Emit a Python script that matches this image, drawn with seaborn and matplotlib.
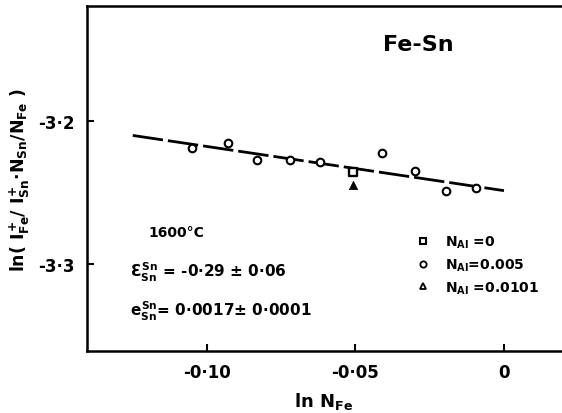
import matplotlib
matplotlib.use("Agg")
import matplotlib.pyplot as plt
from matplotlib.lines import Line2D
import seaborn as sns
import pandas as pd

# measured points, ln N_Fe vs ln(I+Fe/I+Sn * NSn/NFe)
x_al005 = [-0.105, -0.093, -0.083, -0.072, -0.062, -0.041, -0.030, -0.0195, -0.0095]
y_al005 = [-3.219, -3.2155, -3.227, -3.227, -3.2285, -3.2225, -3.235, -3.249, -3.247]
x_al0 = [-0.051]
y_al0 = [-3.2355]
x_al0101 = [-0.051]
y_al0101 = [-3.245]

# fitted line
fit_x = [-0.125, 0.0]
fit_y = [-3.2101, -3.2487]

xticks = [-0.10, -0.05, 0.0]
xtick_labels = ["-0·10", "-0·05", "0"]
yticks = [-3.2, -3.3]
ytick_labels = ["-3·2", "-3·3"]

legend_labels = [r"N$_{Al}$ =0", r"N$_{Al}$=0.005", r"N$_{Al}$ =0.0101"]

sns.set_style("ticks")
plt.rcParams["font.family"] = ["DejaVu Sans"]
plt.rcParams["font.weight"] = "bold"
plt.rcParams["axes.labelweight"] = "bold"
plt.rcParams["text.color"] = "black"
plt.rcParams["axes.labelcolor"] = "black"
plt.rcParams["axes.edgecolor"] = "black"
plt.rcParams["xtick.color"] = "black"
plt.rcParams["ytick.color"] = "black"
plt.rcParams["mathtext.fontset"] = "custom"
plt.rcParams["mathtext.rm"] = "DejaVu Sans:bold"
plt.rcParams["mathtext.it"] = "DejaVu Sans:bold"
plt.rcParams["mathtext.bf"] = "DejaVu Sans:bold"
plt.rcParams["mathtext.sf"] = "DejaVu Sans:bold"

fig = plt.figure(figsize=(5.62, 4.14), dpi=100)
ax = fig.add_axes([0.1548, 0.1498, 0.8434, 0.8333])

fit = pd.DataFrame({"x": fit_x, "y": fit_y})
sns.lineplot(data=fit, x="x", y="y", ax=ax, color="black", linewidth=2.0,
             dashes=False, zorder=1)
ax.lines[-1].set_dashes((11, 1.8))

df05 = pd.DataFrame({"x": x_al005, "y": y_al005})
df0 = pd.DataFrame({"x": x_al0, "y": y_al0})
df01 = pd.DataFrame({"x": x_al0101, "y": y_al0101})
sns.scatterplot(data=df05, x="x", y="y", ax=ax, marker="o", s=30,
                facecolor="white", edgecolor="black", linewidth=1.5, zorder=3)
sns.scatterplot(data=df0, x="x", y="y", ax=ax, marker="s", s=36,
                facecolor="white", edgecolor="black", linewidth=1.7, zorder=3)
sns.scatterplot(data=df01, x="x", y="y", ax=ax, marker="^", s=36,
                color="black", edgecolor="black", linewidth=0.5, zorder=3)

ax.set_xlim(-0.1404, 0.0192)
ax.set_ylim(-3.3608, -3.1196)
ax.set_xticks(xticks)
ax.set_xticklabels(xtick_labels)
ax.set_yticks(yticks)
ax.set_yticklabels(ytick_labels)
ax.tick_params(direction="in", length=5, width=1.5, labelsize=12, pad=9)
for lab in ax.get_xticklabels() + ax.get_yticklabels():
    lab.set_fontweight("bold")

for side in ["left", "bottom", "top"]:
    ax.spines[side].set_linewidth(1.8)
ax.spines["right"].set_visible(False)

ax.set_xlabel(r"ln N$_{Fe}$", fontsize=13, labelpad=6)
ax.set_ylabel(r"ln( $I^{+}_{Fe}$/ $I^{+}_{Sn}$·$N_{Sn}$/$N_{Fe}$ )", fontsize=12.5, labelpad=4)

ax.text(0.7, 0.89, "Fe-Sn", transform=ax.transAxes, fontsize=16, ha="center", va="center")
ax.text(0.13, 0.345, "1600°C", transform=ax.transAxes, fontsize=10, ha="left", va="center")
ax.text(0.09, 0.232, r"$Ɛ^{Sn}_{Sn}$ = -0·29 ± 0·06", transform=ax.transAxes,
        fontsize=11, ha="left", va="center")
ax.text(0.09, 0.118, r"$e^{Sn}_{Sn}$= 0·0017± 0·0001", transform=ax.transAxes,
        fontsize=11, ha="left", va="center")

handles = [
    Line2D([], [], marker="s", linestyle="none", markerfacecolor="white",
           markeredgecolor="black", markeredgewidth=1.5, markersize=5),
    Line2D([], [], marker="o", linestyle="none", markerfacecolor="white",
           markeredgecolor="black", markeredgewidth=1.3, markersize=4.5),
    Line2D([], [], marker="^", linestyle="none", markerfacecolor="white",
           markeredgecolor="black", markeredgewidth=1.3, markersize=5),
]
ax.legend(handles, legend_labels, loc="upper left", bbox_to_anchor=(0.694, 0.339),
          frameon=False, fontsize=10, handlelength=1.0, handletextpad=1.1,
          labelspacing=0.45, borderpad=0, borderaxespad=0)

fig.savefig("out.png", dpi=100)
